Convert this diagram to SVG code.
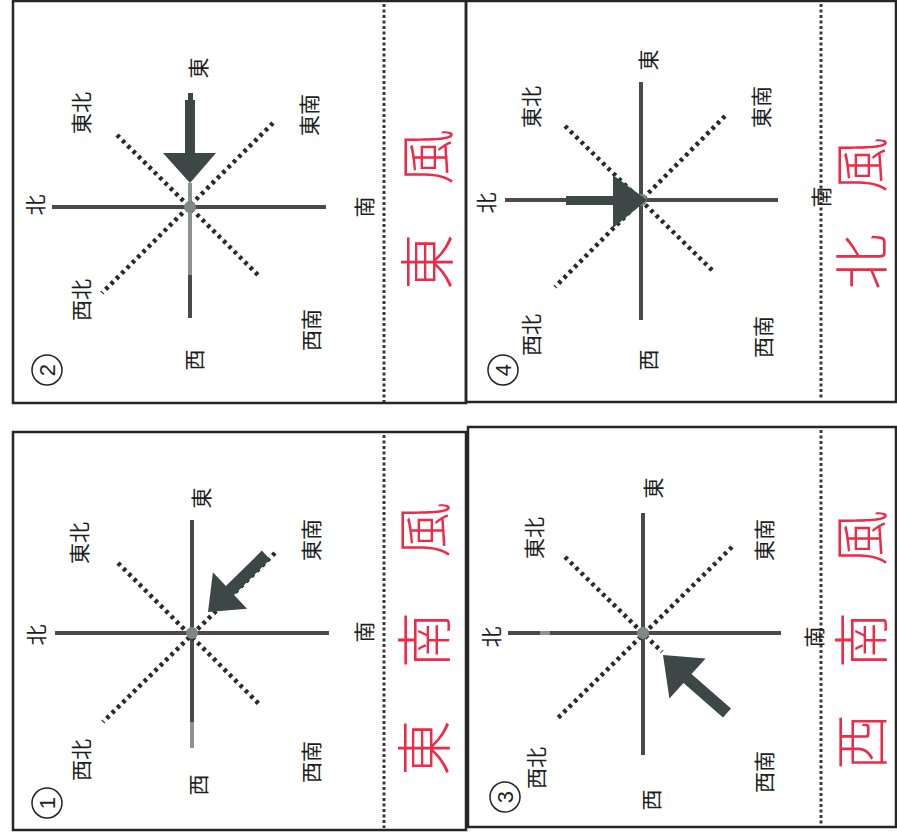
<svg xmlns="http://www.w3.org/2000/svg" width="897" height="838" viewBox="0 0 897 838">
<defs>
<style>
.border{fill:none;stroke:#262626;stroke-width:2.5}
.axis{stroke:#4a4a4a;stroke-width:4;fill:none}
.light{stroke:#8c9290;stroke-width:4;fill:none}
.diag{stroke:#2a2a2a;stroke-width:4.5;stroke-dasharray:3.5 4;fill:none}
.sep{stroke:#3a3a3a;stroke-width:3;stroke-dasharray:3 2.5;fill:none}
.lbl{font-family:"Noto Sans CJK JP","Noto Sans CJK SC",sans-serif;font-size:21px;fill:#1e1e1e;text-anchor:middle;dominant-baseline:central}
.num{font-family:"Liberation Sans",sans-serif;font-size:22px;fill:#222;text-anchor:middle;dominant-baseline:central}
.ring{fill:none;stroke:#222;stroke-width:1.5}
.red{font-family:"Noto Sans CJK JP","Noto Sans CJK SC",sans-serif;font-size:56px;font-weight:300;fill:#ee2a46;text-anchor:middle;dominant-baseline:central}
.arrow{fill:#3d4745}
.dot{fill:#7f8886}
</style>
</defs>
<rect width="897" height="838" fill="#ffffff"/>

<g id="panel2">
<rect class="border" x="13" y="1" width="453" height="402"/>
<line class="sep" x1="384" y1="4" x2="384" y2="402"/>
<line class="axis" x1="52" y1="207" x2="326" y2="207"/>
<line class="light" x1="190" y1="183" x2="190" y2="275"/>
<line class="axis" x1="190" y1="275" x2="190" y2="318"/>
<line class="diag" x1="117" y1="135" x2="258" y2="275"/>
<line class="diag" x1="273" y1="123" x2="102" y2="293"/>
<circle class="dot" cx="190" cy="207" r="6"/>
<polygon class="arrow" points="188,93 193,93 193,100 195,100 195,153 216,153 190,183 163,153 185,153 185,100 188,100"/>
<text class="lbl" transform="rotate(-90 34 205)" x="34" y="205">北</text>
<text class="lbl" transform="rotate(-90 363 207)" x="363" y="207">南</text>
<text class="lbl" transform="rotate(-90 197 68)" x="197" y="68">東</text>
<text class="lbl" transform="rotate(-90 193 360)" x="193" y="360">西</text>
<text class="lbl" transform="rotate(-90 80 113)" x="80" y="113">東北</text>
<text class="lbl" transform="rotate(-90 308 115)" x="308" y="115">東南</text>
<text class="lbl" transform="rotate(-90 80 300)" x="80" y="300">西北</text>
<text class="lbl" transform="rotate(-90 310 330)" x="310" y="330">西南</text>
<circle class="ring" cx="47" cy="370" r="15"/>
<text class="num" transform="rotate(-90 47 370)" x="47" y="370">2</text>
<text class="red" transform="rotate(-90 423 262)" x="423" y="262">東</text>
<text class="red" transform="rotate(-90 423 157)" x="423" y="157">風</text>
</g>

<g id="panel4">
<rect class="border" x="466" y="1" width="430" height="401"/>
<line class="sep" x1="821" y1="4" x2="821" y2="400"/>
<line class="axis" x1="505" y1="200" x2="778" y2="200"/>
<line class="axis" x1="641" y1="82" x2="641" y2="320"/>
<line class="diag" x1="565" y1="126" x2="715" y2="273"/>
<line class="diag" x1="725" y1="116" x2="555" y2="287"/>
<circle class="dot" cx="641" cy="200" r="6"/>
<polygon class="arrow" points="566,196 613,196 613,175 647,200 613,228 613,205 566,205"/>
<text class="lbl" transform="rotate(-90 485 203)" x="485" y="203">北</text>
<text class="lbl" transform="rotate(-90 820 197)" x="820" y="197">南</text>
<text class="lbl" transform="rotate(-90 647 60)" x="647" y="60">東</text>
<text class="lbl" transform="rotate(-90 647 360)" x="647" y="360">西</text>
<text class="lbl" transform="rotate(-90 530 107)" x="530" y="107">東北</text>
<text class="lbl" transform="rotate(-90 760 107)" x="760" y="107">東南</text>
<text class="lbl" transform="rotate(-90 530 335)" x="530" y="335">西北</text>
<text class="lbl" transform="rotate(-90 762 337)" x="762" y="337">西南</text>
<circle class="ring" cx="503" cy="370" r="15"/>
<text class="num" transform="rotate(-90 503 370)" x="503" y="370">4</text>
<text class="red" transform="rotate(-90 857 262)" x="857" y="262">北</text>
<text class="red" transform="rotate(-90 857 165)" x="857" y="165">風</text>
</g>

<g id="panel1">
<rect class="border" x="13" y="432" width="453" height="398"/>
<line class="sep" x1="384" y1="435" x2="384" y2="828"/>
<line class="axis" x1="55" y1="633" x2="329" y2="633"/>
<line class="axis" x1="192" y1="520" x2="192" y2="722"/>
<line class="light" x1="192" y1="722" x2="192" y2="748"/>
<line class="diag" x1="118" y1="563" x2="260" y2="705"/>
<line class="diag" x1="275" y1="553" x2="103" y2="722"/>
<circle class="dot" cx="192" cy="633" r="6"/>
<polygon class="arrow" points="261.9,550.6 270.1,559.4 234.1,594.9 247.1,608.8 208,612 212.9,572.2 225.9,586.1"/>
<text class="lbl" transform="rotate(-90 35 635)" x="35" y="635">北</text>
<text class="lbl" transform="rotate(-90 363 632)" x="363" y="632">南</text>
<text class="lbl" transform="rotate(-90 200 498)" x="200" y="498">東</text>
<text class="lbl" transform="rotate(-90 197 785)" x="197" y="785">西</text>
<text class="lbl" transform="rotate(-90 78 543)" x="78" y="543">東北</text>
<text class="lbl" transform="rotate(-90 310 540)" x="310" y="540">東南</text>
<text class="lbl" transform="rotate(-90 80 760)" x="80" y="760">西北</text>
<text class="lbl" transform="rotate(-90 310 762)" x="310" y="762">西南</text>
<circle class="ring" cx="47" cy="803" r="15"/>
<text class="num" transform="rotate(-90 47 803)" x="47" y="803">1</text>
<text class="red" transform="rotate(-90 420 748)" x="420" y="748">東</text>
<text class="red" transform="rotate(-90 420 640)" x="420" y="640">南</text>
<text class="red" transform="rotate(-90 420 530)" x="420" y="530">風</text>
</g>

<g id="panel3">
<rect class="border" x="468" y="427" width="428" height="400"/>
<line class="sep" x1="821" y1="430" x2="821" y2="825"/>
<line class="axis" x1="508" y1="633" x2="540" y2="633"/>
<line class="light" x1="540" y1="633" x2="550" y2="633"/>
<line class="axis" x1="550" y1="633" x2="781" y2="633"/>
<line class="axis" x1="643" y1="513" x2="643" y2="755"/>
<line class="diag" x1="565" y1="557" x2="662" y2="652"/>
<line class="diag" x1="732" y1="547" x2="558" y2="718"/>
<circle class="dot" cx="643" cy="633" r="6"/>
<polygon class="arrow" points="731,708.6 691.5,674.1 705.6,658.5 663,655 669.4,698.5 683.5,682.9 723,717.4"/>
<text class="lbl" transform="rotate(-90 490 637)" x="490" y="637">北</text>
<text class="lbl" transform="rotate(-90 813 637)" x="813" y="637">南</text>
<text class="lbl" transform="rotate(-90 652 488)" x="652" y="488">東</text>
<text class="lbl" transform="rotate(-90 650 800)" x="650" y="800">西</text>
<text class="lbl" transform="rotate(-90 533 538)" x="533" y="538">東北</text>
<text class="lbl" transform="rotate(-90 763 540)" x="763" y="540">東南</text>
<text class="lbl" transform="rotate(-90 535 768)" x="535" y="768">西北</text>
<text class="lbl" transform="rotate(-90 763 772)" x="763" y="772">西南</text>
<circle class="ring" cx="505" cy="797" r="15"/>
<text class="num" transform="rotate(-90 505 797)" x="505" y="797">3</text>
<text class="red" transform="rotate(-90 857 742)" x="857" y="742">西</text>
<text class="red" transform="rotate(-90 857 640)" x="857" y="640">南</text>
<text class="red" transform="rotate(-90 857 538)" x="857" y="538">風</text>
</g>
</svg>
